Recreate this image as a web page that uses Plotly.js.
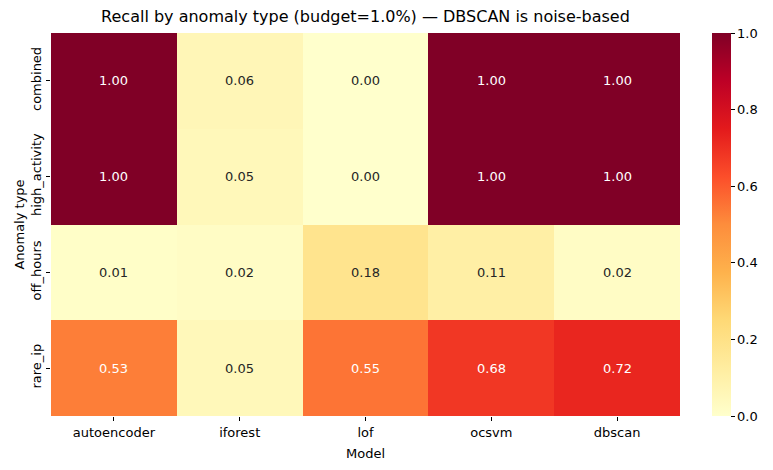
<!DOCTYPE html>
<html>
<head>
<meta charset="utf-8">
<script src="https://cdn.plot.ly/plotly-3.0.1.min.js"></script>
<style>html,body{margin:0;padding:0;background:#fff;}#chart{width:773px;height:470px;}</style>
</head>
<body>
<div id="chart"></div>
<script>
const models = ["autoencoder", "iforest", "lof", "ocsvm", "dbscan"];
const anomalyTypes = ["combined", "high_activity", "off_hours", "rare_ip"];
const recallCombined = [1.00, 0.06, 0.00, 1.00, 1.00];
const recallHighActivity = [1.00, 0.05, 0.00, 1.00, 1.00];
const recallOffHours = [0.01, 0.02, 0.18, 0.11, 0.02];
const recallRareIp = [0.53, 0.05, 0.55, 0.68, 0.72];
const colorbarTicks = [0.0, 0.2, 0.4, 0.6, 0.8, 1.0];

const z = [recallCombined, recallHighActivity, recallOffHours, recallRareIp];

const ylorrd = [
  [0.0, "#ffffcc"], [0.125, "#ffeda0"], [0.25, "#fed976"], [0.375, "#feb24c"],
  [0.5, "#fd8d3c"], [0.625, "#fc4e2a"], [0.75, "#e31a1c"], [0.875, "#bd0026"], [1.0, "#800026"]
];

const FONT = "DejaVu Sans, sans-serif";

const annotations = [];
anomalyTypes.forEach((t, i) => {
  models.forEach((m, j) => {
    const v = z[i][j];
    annotations.push({
      x: m, y: t, xref: "x", yref: "y",
      text: v.toFixed(2), showarrow: false,
      font: {family: FONT, size: 13, color: v > 0.4 ? "#ffffff" : "#262626"}
    });
  });
});

const trace = {
  type: "heatmap",
  x: models, y: anomalyTypes, z: z,
  zmin: 0, zmax: 1,
  colorscale: ylorrd,
  xgap: 0, ygap: 0,
  hoverinfo: "none",
  colorbar: {
    x: 1.051, xanchor: "left", xref: "paper",
    y: 0.5, yanchor: "middle",
    len: 383, lenmode: "pixels",
    thickness: 19, thicknessmode: "pixels",
    outlinewidth: 0,
    tickvals: colorbarTicks,
    ticktext: colorbarTicks.map(v => v.toFixed(1)),
    ticks: "outside", ticklen: 4, tickcolor: "#000", tickwidth: 1,
    tickfont: {family: FONT, size: 13, color: "#000"},
    xpad: 0, ypad: 0
  }
};

const layout = {
  width: 773, height: 470,
  margin: {l: 51, r: 93, t: 33, b: 54},
  paper_bgcolor: "#fff", plot_bgcolor: "#fff",
  font: {family: FONT, color: "#000"},
  title: {
    text: "Recall by anomaly type (budget=1.0%) — DBSCAN is noise-based",
    font: {family: FONT, size: 16, color: "#000"},
    x: 0.5, xref: "paper", xanchor: "center",
    y: 1, yref: "container", yanchor: "top", pad: {t: 11}
  },
  xaxis: {
    type: "category",
    title: {text: "Model", font: {family: FONT, size: 13, color: "#000"}, standoff: 10},
    tickfont: {family: FONT, size: 13, color: "#000"},
    ticks: "outside", ticklen: 4, tickcolor: "#000",
    showgrid: false, zeroline: false, showline: false
  },
  yaxis: {
    type: "category",
    autorange: "reversed",
    title: {text: "Anomaly type", font: {family: FONT, size: 13, color: "#000"}, standoff: 1},
    tickfont: {family: FONT, size: 13, color: "#000"},
    tickangle: -90,
    ticks: "outside", ticklen: 4, tickcolor: "#000",
    showgrid: false, zeroline: false, showline: false
  },
  annotations: annotations
};

Plotly.newPlot("chart", [trace], layout, {displayModeBar: false, staticPlot: true});
</script>
</body>
</html>
